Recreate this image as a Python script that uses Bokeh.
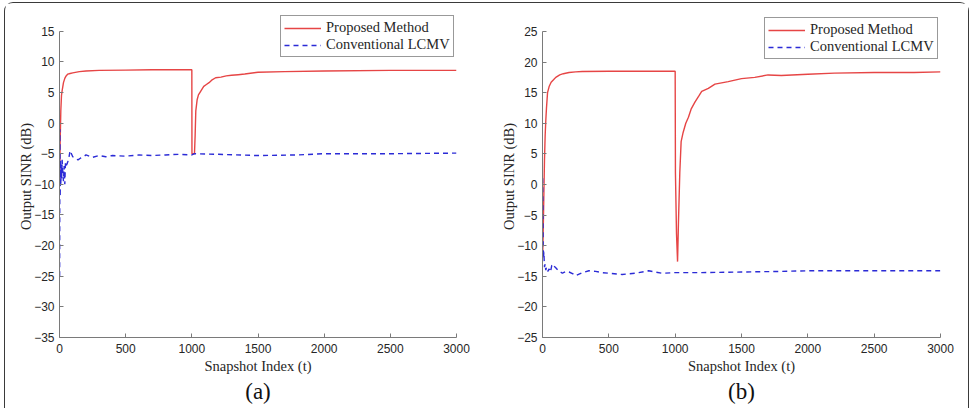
from bokeh.plotting import figure
from bokeh.layouts import row
from bokeh.models import Legend, LegendItem, Title, FixedTicker
from bokeh.embed import file_html
from bokeh.resources import INLINE

# ---- Panel (a): output SINR vs snapshot index ----
t_a_prop = [1, 5, 10, 15, 20, 30, 40, 50, 63, 80, 100, 150, 200, 300, 500, 700, 1000,
            1001, 1020, 1025, 1030, 1040, 1050, 1070, 1090, 1110, 1130, 1150, 1180,
            1220, 1260, 1300, 1350, 1400, 1500, 1700, 2000, 2500, 3000]
sinr_a_prop = [-10, -3, 2, 4.5, 5.3, 6.6, 7.3, 7.7, 8.0, 8.1, 8.2, 8.4, 8.5, 8.6, 8.65, 8.7, 8.7,
               -5, -5, -2, 2, 3.8, 4.6, 5.3, 6.0, 6.3, 6.6, 7.0, 7.4,
               7.5, 7.7, 7.8, 7.9, 8.0, 8.3, 8.4, 8.5, 8.6, 8.6]

t_a_lcmv = [1, 3, 5, 8, 10, 13, 16, 20, 25, 30, 35, 40, 45, 50, 60, 70, 80, 90, 100, 120,
            140, 160, 180, 200, 250, 300, 350, 400, 500, 600, 700, 800, 900, 1000, 1020,
            1200, 1500, 1800, 2000, 2500, 3000]
sinr_a_lcmv = [-25, -1, -12, -6, -10, -7, -9, -6, -8, -9.5, -7, -10, -6.5, -7, -6.5, -5.8,
               -4.5, -5, -5.5, -5.8, -6, -5.7, -5.5, -5.2, -5.6, -5.3, -5.5, -5.3, -5.4,
               -5.2, -5.3, -5.2, -5.1, -5.2, -5.0, -5.1, -5.3, -5.2, -5.0, -5.0, -4.9]

# ---- Panel (b) ----
t_b_prop = [1, 5, 10, 15, 20, 25, 30, 38, 50, 65, 83, 100, 130, 157, 200, 250, 300, 500, 700,
            1000, 1002, 1010, 1018, 1025, 1035, 1045, 1060, 1080, 1100, 1120, 1150, 1180,
            1200, 1250, 1300, 1400, 1500, 1600, 1700, 1800, 2000, 2200, 2500, 2800, 3000]
sinr_b_prop = [-12, -8, -2, 4, 8, 10.5, 12.5, 15, 16, 16.7, 17.1, 17.5, 17.9, 18.1, 18.3,
               18.4, 18.45, 18.5, 18.5,
               18.5, 2, -8, -12.6, -6, 2, 7, 8.5, 10, 11, 12.3, 13.5, 14.5,
               15.2, 15.7, 16.4, 16.8, 17.3, 17.5, 17.9, 17.8, 18.0, 18.2, 18.3, 18.3, 18.4]

t_b_lcmv = [1, 3, 5, 8, 10, 15, 20, 25, 30, 40, 50, 60, 70, 80, 90, 100, 120, 150, 180, 200,
            230, 250, 280, 300, 350, 400, 450, 500, 600, 700, 800, 900, 1000, 1200, 1500,
            1800, 2000, 2500, 3000]
sinr_b_lcmv = [1, -3, -10, -12, -11, -13.5, -13, -14, -13.5, -14.2, -13.8, -14.3, -13.2, -13,
               -13.4, -13.6, -14.1, -14.5, -14.2, -14.3, -14.6, -14.9, -14.6, -14.4, -14.1,
               -14.2, -14.4, -14.5, -14.7, -14.5, -14.1, -14.5, -14.4, -14.4, -14.3, -14.2,
               -14.1, -14.1, -14.1]

x_ticks = [0, 500, 1000, 1500, 2000, 2500, 3000]
y_ticks_a = list(range(-35, 20, 5))
y_ticks_b = list(range(-25, 30, 5))

RED = "#e64545"
BLUE = "#2b2bd6"
SERIF = "Liberation Serif"
SANS = "Liberation Sans"


def panel(tag, width, left, right, y_bounds, y_top, y_ticks, tp, vp, tl, vl, legend_xy):
    # the frame reaches a little above the top tick so the legend can sit there;
    # the y axis line itself stops at the last tick
    p = figure(width=width, height=405, x_range=(0, 3000), y_range=(y_bounds[0], y_top),
               output_backend="svg", toolbar_location=None,
               min_border_left=left, min_border_right=right,
               min_border_top=12, min_border_bottom=71)
    p.outline_line_color = None
    p.xgrid.visible = False
    p.ygrid.visible = False
    p.background_fill_color = "white"
    p.border_fill_color = "white"

    r1 = p.line(tp, vp, line_color=RED, line_width=1.4)
    r2 = p.line(tl, vl, line_color=BLUE, line_width=1.4, line_dash="5 4")

    for ax in (p.xaxis[0], p.yaxis[0]):
        ax.axis_line_color = "#7a7a7a"
        ax.major_tick_line_color = "#7a7a7a"
        ax.major_tick_in = 4
        ax.major_tick_out = 0
        ax.minor_tick_line_color = None
        ax.major_label_text_font = SANS
        ax.major_label_text_font_size = "12px"
        ax.major_label_text_color = "#262626"
        ax.axis_label_text_font = SERIF
        ax.axis_label_text_font_size = "14.5px"
        ax.axis_label_text_font_style = "normal"
        ax.axis_label_text_color = "#262626"
    p.yaxis.bounds = y_bounds
    p.xaxis.ticker = FixedTicker(ticks=x_ticks)
    p.yaxis.ticker = FixedTicker(ticks=y_ticks)
    p.xaxis.axis_label = "Snapshot Index (t)"
    p.yaxis.axis_label = "Output SINR (dB)"
    p.xaxis.major_label_standoff = 6
    p.yaxis.major_label_standoff = 5
    p.xaxis.axis_label_standoff = 2
    p.yaxis.axis_label_standoff = -3

    legend = Legend(items=[LegendItem(label="Proposed Method", renderers=[r1]),
                           LegendItem(label="Conventional LCMV", renderers=[r2])],
                    location=legend_xy, orientation="vertical",
                    label_text_font=SERIF, label_text_font_size="14.5px",
                    label_text_color="#262626",
                    glyph_width=37, glyph_height=14, label_height=14,
                    label_standoff=5, spacing=0, padding=3, margin=0,
                    border_line_color="#333333", border_line_width=1,
                    background_fill_alpha=1.0)
    p.add_layout(legend, "center")

    p.add_layout(Title(text=tag, align="center", text_font=SERIF,
                       text_font_size="23px", text_font_style="normal",
                       text_color="#111111", standoff=0), "below")
    return p


pa = panel("(a)", 483, 54, 32, (-35, 15), 17.56, y_ticks_a,
           t_a_prop, sinr_a_prop, t_a_lcmv, sinr_a_lcmv, (221, 280))
pb = panel("(b)", 480, 54, 28, (-25, 25), 27.61, y_ticks_b,
           t_b_prop, sinr_b_prop, t_b_lcmv, sinr_b_lcmv, (222, 278))

layout = row(pa, pb, styles={"border": "1px solid #3a3a3a", "border-bottom": "none",
                             "border-radius": "9px 9px 0 0",
                             "margin-left": "4px", "margin-top": "2px"})

open("out.html", "w").write(file_html(layout, INLINE))
